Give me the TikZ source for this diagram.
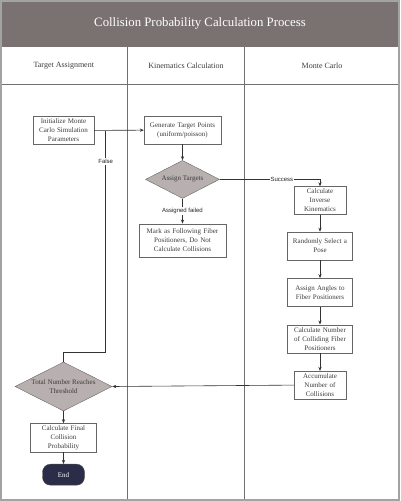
\documentclass[tikz,border=0pt]{standalone}
\usepackage{fontspec}
\setmainfont{Liberation Serif}
\newfontfamily\edgefont{Liberation Sans}
\usetikzlibrary{positioning, arrows.meta, shapes.geometric}
\definecolor{titlegray}{HTML}{7A7271}
\definecolor{diamondgray}{HTML}{B8AFAF}
\definecolor{framegray}{HTML}{A3A3A3}
\definecolor{lanegray}{HTML}{707070}
\definecolor{endnavy}{HTML}{2B2C48}
\definecolor{textgray}{HTML}{3C3C3C}

\begin{document}
\begin{tikzpicture}[
    x=1pt, y=-1pt,
    node distance=18pt,
    >={Stealth[length=4pt, width=3.2pt]},
    process/.style={draw=black!60, fill=white, text=textgray, align=center, font=\fontsize{7}{9}\selectfont, inner sep=2pt, minimum height=28pt, text width=#1},
    decision/.style={draw=black!60, fill=diamondgray, text=textgray, diamond, aspect=2, align=center, font=\fontsize{7}{9}\selectfont, inner sep=0pt},
    terminal/.style={draw=black!70, fill=endnavy, text=white, rounded corners=8pt, minimum width=42pt, minimum height=21pt, font=\fontsize{7}{9}\selectfont},
    flow/.style={->, draw=black!80, line width=0.6pt},
    edgelabel/.style={fill=white, inner sep=1pt, font=\edgefont\fontsize{6}{7}\selectfont, text=black!85},
    lane/.style={draw=lanegray, line width=0.7pt}
]
\useasboundingbox (0,0) rectangle (400,501);

% Frame, title and lanes
\fill[titlegray] (0,0) rectangle (400,47);
\node[text=white, font=\fontsize{12.8}{15}\selectfont] (title) at (200,23.5) {Collision Probability Calculation Process};
\draw[lane] (0,84) -- (400,84);
\draw[lane] (127.7,47) -- (127.7,500);
\draw[lane] (244.3,47) -- (244.3,500);
\node[font=\fontsize{8}{10}\selectfont, text=textgray] (laneA) at (63.8,65.5) {Target Assignment};
\node[font=\fontsize{8}{10}\selectfont, text=textgray] (laneB) at (186,65.5) {Kinematics Calculation};
\node[font=\fontsize{8}{10}\selectfont, text=textgray] (laneC) at (322,65.5) {Monte Carlo};
\draw[framegray, line width=1.6pt] (0.8,0.8) rectangle (399.2,500.2);

% Target assignment lane
\node[process=57pt] (init) at (63.5,130.5) {Initialize Monte\\Carlo Simulation\\Parameters};
\node[decision, minimum width=97pt, minimum height=49pt] (total) at (63.5,386.5) {Total Number Reaches\\Threshold};
\node[process=62pt, below=12pt of total] (final) {Calculate Final\\Collision\\Probability};
\node[terminal, below=12pt of final] (end) {End};

% Kinematics lane
\node[process=73pt] (gen) at (182.5,130) {Generate Target Points\\(uniform/poisson)};
\node[decision, minimum width=74pt, minimum height=38pt, below=16pt of gen] (assign) {Assign Targets};
\node[process=83pt, minimum height=33pt, below=25pt of assign] (mark) {Mark as Following Fiber\\Positioners, Do Not\\Calculate Collisions};

% Monte Carlo lane
\node[process=48pt] (invk) at (320,200.5) {Calculate\\Inverse\\Kinematics};
\node[process=61pt, below=17pt of invk] (pose) {Randomly Select a\\Pose};
\node[process=61pt, below=18pt of pose] (angles) {Assign Angles to\\Fiber Positioners};
\node[process=61pt, below=18pt of angles] (count) {Calculate Number\\of Colliding Fiber\\Positioners};
\node[process=48pt, below=18pt of count] (accum) {Accumulate\\Number of\\Collisions};

% Connections
\coordinate (fbend) at (105.7,352.7);
\draw[flow] (init) -- (gen);
\draw[flow] (gen) -- (assign);
\draw[flow] (assign.south) -- node[edgelabel] {Assigned failed} (assign.south |- mark.north);
\draw[flow] (assign.east) -| node[edgelabel, pos=0.31] {Success} (invk.north);
\draw[flow] (invk) -- (pose);
\draw[flow] (pose) -- (angles);
\draw[flow] (angles) -- (count);
\draw[flow] (count) -- (accum);
\draw[flow] (accum.west) -- (total.east);
\draw[flow] (total) -- (final);
\draw[flow] (final) -- (end);
\draw[draw=black!80, line width=0.6pt] (total.north) |- (fbend);
\draw[draw=black!80, line width=0.6pt] (fbend) -- node[edgelabel, pos=0.86] {False} (fbend |- init.east);

\end{tikzpicture}
\end{document}
